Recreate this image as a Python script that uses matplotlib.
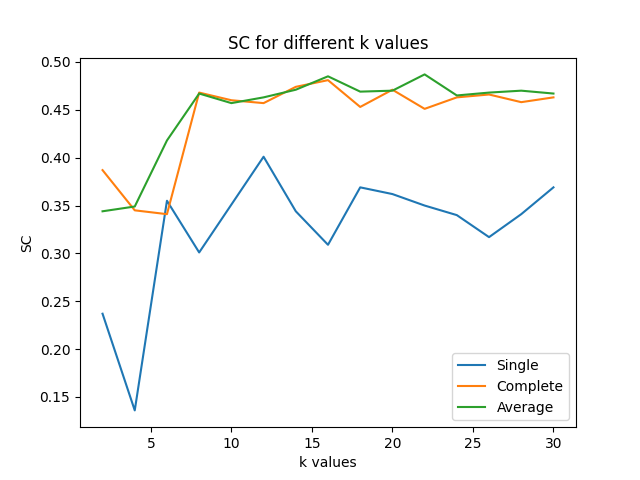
import matplotlib
matplotlib.use('Agg')
import matplotlib.pyplot as plt

k_values = list(range(2, 31, 2))
sc_single = [0.237, 0.136, 0.355, 0.301, 0.351, 0.401, 0.344, 0.309, 0.369, 0.362, 0.350, 0.340, 0.317, 0.341, 0.369]
sc_complete = [0.387, 0.345, 0.341, 0.468, 0.460, 0.457, 0.474, 0.481, 0.453, 0.471, 0.451, 0.463, 0.466, 0.458, 0.463]
sc_average = [0.344, 0.349, 0.418, 0.467, 0.457, 0.463, 0.471, 0.485, 0.469, 0.470, 0.487, 0.465, 0.468, 0.470, 0.467]

fig = plt.figure(figsize=(6.4, 4.8), dpi=100)
ax = fig.add_subplot(111)
ax.plot(k_values, sc_single, label='Single')
ax.plot(k_values, sc_complete, label='Complete')
ax.plot(k_values, sc_average, label='Average')
ax.set_title('SC for different k values')
ax.set_xlabel('k values')
ax.set_ylabel('SC')
ax.legend(loc='lower right')
plt.savefig('out.png')
